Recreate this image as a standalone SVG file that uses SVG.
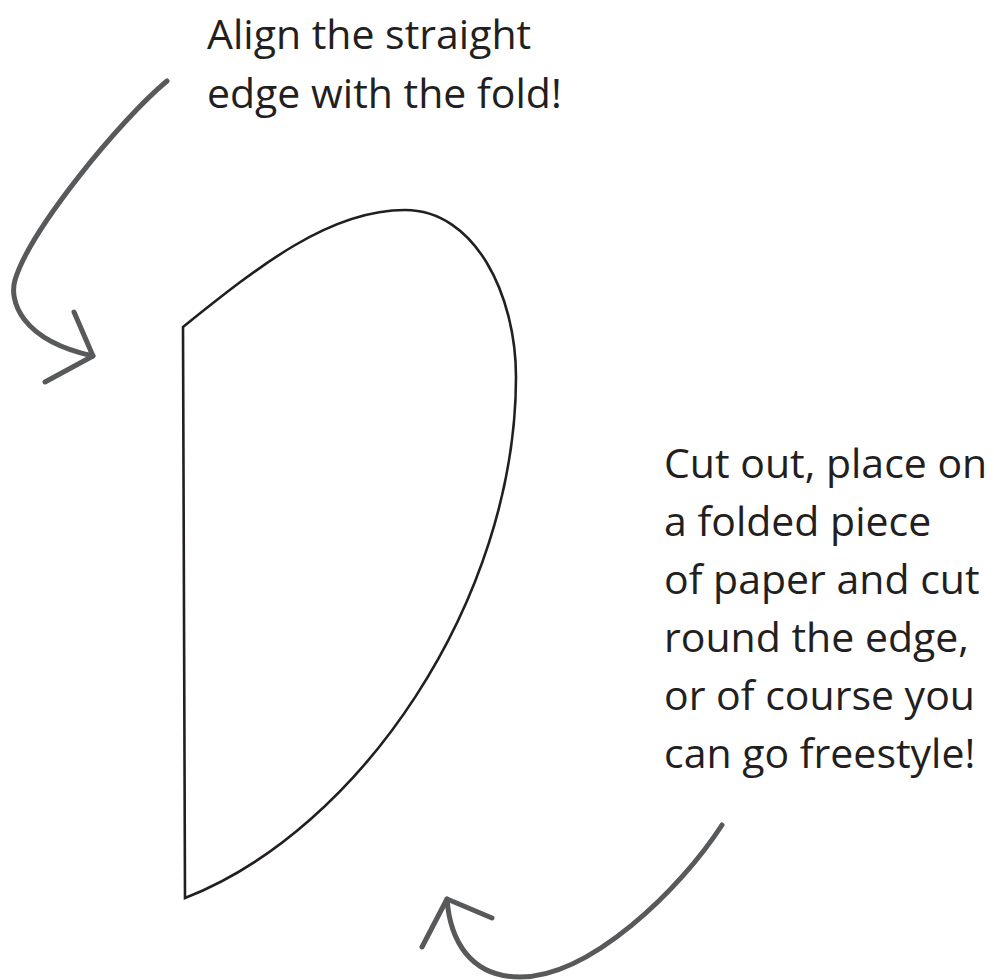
<svg xmlns="http://www.w3.org/2000/svg" width="994" height="980" viewBox="0 0 994 980">
  <style>
    .label { font-family: "Open Sans", "Noto Sans", sans-serif; font-size: 41px; fill: #231f20; }
    .arrow { fill: none; stroke: #58595b; stroke-width: 5; stroke-linecap: round; stroke-linejoin: round; }
    .shape { fill: #ffffff; stroke: #231f20; stroke-width: 2.6; stroke-linejoin: miter; }
  </style>
  <rect width="994" height="980" fill="#ffffff"/>
  <g id="template">
    <path class="shape" d="M183,327 C260,265 330,210 405,210 C475,210 516,295 516,377 C516,600 360,830 185,898 L183,327 Z"/>
  </g>
  <g id="label-align">
    <text class="label" x="207" y="49">Align the straight</text>
    <text class="label" x="207" y="108">edge with the fold!</text>
  </g>
  <g id="label-cut">
    <text class="label" x="664" y="478">Cut out, place on</text>
    <text class="label" x="664" y="536">a folded piece</text>
    <text class="label" x="664" y="594">of paper and cut</text>
    <text class="label" x="664" y="652">round the edge,</text>
    <text class="label" x="664" y="710">or of course you</text>
    <text class="label" x="664" y="768">can go freestyle!</text>
  </g>
  <g id="connectors">
    <path class="arrow" d="M167,81 C120,120 30,230 15,280 C9,300 20,340 93,356"/>
    <path class="arrow" d="M74,312 L93,356 L45,382"/>
    <path class="arrow" d="M722,825 C680,890 590,977 520,977 C470,977 450,940 447,899"/>
    <path class="arrow" d="M422,947 L447,899 L492,918"/>
  </g>
</svg>
